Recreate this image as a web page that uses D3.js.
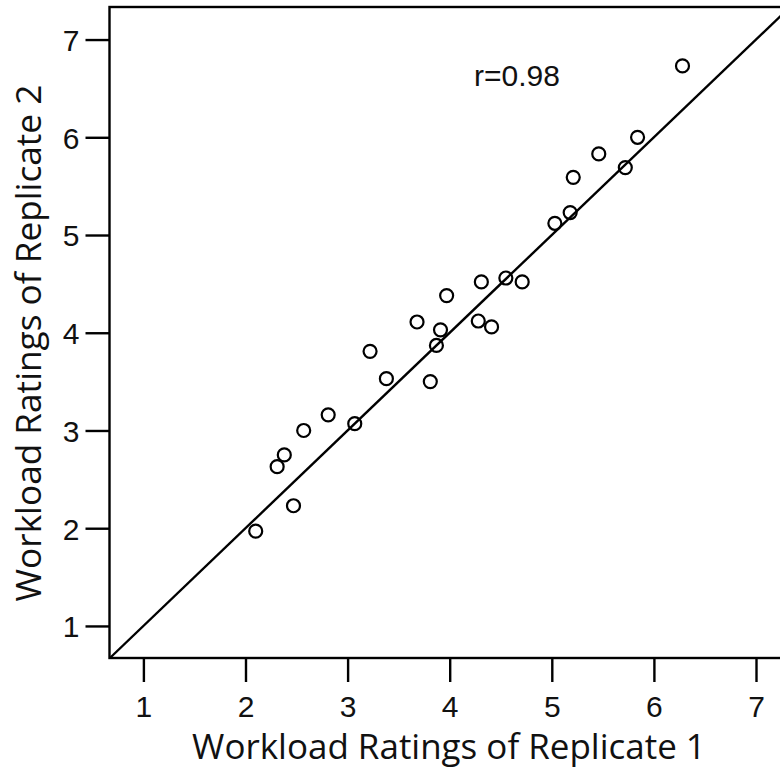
<!DOCTYPE html>
<html>
<head>
<meta charset="utf-8">
<script src="https://cdn.jsdelivr.net/npm/d3@7"></script>
<style>
  body { margin: 0; background: #fff; }
  svg { display: block; }
  .frame { fill: none; stroke: #000; stroke-width: 2.4; }
  .tick line { stroke: #000; stroke-width: 2.4; }
  .tick text { font-family: "Liberation Sans", Arial, sans-serif; font-size: 30px; fill: #111; }
  .domain { display: none; }
  .pt { fill: none; stroke: #000; stroke-width: 2.2; }
  .diag { stroke: #000; stroke-width: 2.4; }
  .title { font-family: "Open Sans", "Noto Sans", sans-serif; fill: #111; }
  .rlabel { font-family: "Liberation Sans", Arial, sans-serif; font-size: 30px; fill: #111; }
</style>
</head>
<body>
<script>
// ratings of replicate 1 (x) and replicate 2 (y)
var rep1 = [2.10, 2.47, 2.31, 2.38, 2.57, 2.81, 3.07, 3.22, 3.38, 3.81, 3.68, 3.87,
            3.91, 3.97, 4.28, 4.41, 4.31, 4.55, 4.71, 5.03, 5.18, 5.21, 5.46, 5.72,
            5.84, 6.28];
var rep2 = [1.97, 2.23, 2.63, 2.75, 3.00, 3.16, 3.07, 3.81, 3.53, 3.50, 4.11, 3.87,
            4.03, 4.38, 4.12, 4.06, 4.52, 4.56, 4.52, 5.12, 5.23, 5.59, 5.83, 5.69,
            6.00, 6.73];
var ticks = [1, 2, 3, 4, 5, 6, 7];
var xTitle = "Workload Ratings of Replicate 1";
var yTitle = "Workload Ratings of Replicate 2";
var rText = "r=0.98";

drawChart = function()
{
    var width = 780, height = 771;
    // plot box (right edge falls just outside the picture, as in the original)
    var pLeft = 109.5, pTop = 7, pBottom = 658, pRight = 790;

    var svg = d3.select("body").append("svg")
        .attr("width", width)
        .attr("height", height);

    var x = d3.scaleLinear().domain([0.668, 7.333]).range([pLeft, pRight]);
    var y = d3.scaleLinear().domain([0.672, 7.333]).range([pBottom, pTop]);

    // frame
    svg.append("rect")
        .attr("class", "frame")
        .attr("x", pLeft)
        .attr("y", pTop)
        .attr("width", pRight - pLeft)
        .attr("height", pBottom - pTop);

    // axes
    var xAxis = svg.append("g")
        .attr("transform", "translate(0," + pBottom + ")")
        .call(d3.axisBottom(x).tickValues(ticks).tickSize(24).tickPadding(10).tickFormat(d3.format("d")));
    xAxis.selectAll(".tick text").attr("dy", "0.82em");

    svg.append("g")
        .attr("transform", "translate(" + pLeft + ",0)")
        .call(d3.axisLeft(y).tickValues(ticks).tickSize(24).tickPadding(6).tickFormat(d3.format("d")))
        .selectAll(".tick text").attr("dy", "0.36em");

    // y = x reference line
    var lo = Math.max(x.domain()[0], y.domain()[0]), hi = 7.333;
    svg.append("line")
        .attr("class", "diag")
        .attr("x1", x(lo)).attr("y1", y(lo))
        .attr("x2", x(hi)).attr("y2", y(hi));

    // points
    var pts = rep1.map(function(d, i) { return [d, rep2[i]]; });
    svg.append("g").selectAll("circle")
        .data(pts)
        .enter().append("circle")
        .attr("class", "pt")
        .attr("cx", function(d) { return x(d[0]); })
        .attr("cy", function(d) { return y(d[1]); })
        .attr("r", 6.5);

    svg.append("text")
        .attr("class", "rlabel")
        .attr("x", 474)
        .attr("y", 86)
        .text(rText);

    // axis titles, sized to span the same width as the original
    function fitText(t, target) {
        t.style("font-size", "30px");
        var w = t.node().getComputedTextLength();
        t.style("font-size", (30 * target / w) + "px");
    }

    var xt = svg.append("text")
        .attr("class", "title")
        .attr("text-anchor", "middle")
        .attr("x", 449)
        .attr("y", 759)
        .text(xTitle);
    fitText(xt, 514);

    var yt = svg.append("text")
        .attr("class", "title")
        .attr("text-anchor", "middle")
        .attr("transform", "translate(41,343) rotate(-90)")
        .text(yTitle);
    fitText(yt, 517);
};
drawChart();
</script>
</body>
</html>
